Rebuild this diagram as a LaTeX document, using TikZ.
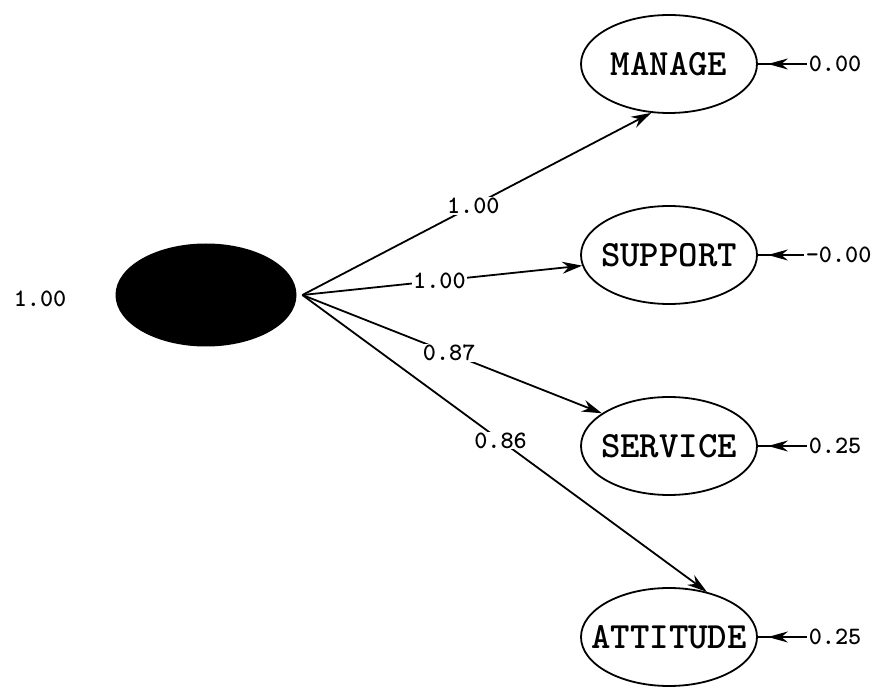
\documentclass[tikz,border=0pt]{standalone}
\usepackage{fontspec}
\usetikzlibrary{arrows.meta,positioning,shapes.geometric}

\begin{document}
\begin{tikzpicture}[x=1pt, y=1pt, >={Stealth[length=20pt,width=12pt]}, line width=1.8pt,
    node distance=191pt,
    observed/.style={ellipse, draw, on grid, minimum width=176pt, minimum height=98pt,
        inner xsep=-40pt, inner ysep=0pt,
        font=\fontsize{37}{37}\selectfont\ttfamily\bfseries},
    latent/.style={ellipse, fill=black, minimum width=181pt, minimum height=103pt, inner sep=0pt},
    value/.style={inner sep=1pt, font=\fontsize{25}{25}\selectfont\ttfamily\bfseries},
    loading/.style={value, fill=white, pos=0.49},
    errarrow/.style={-{Stealth[length=20pt,width=11pt]}, shorten >=10pt}]
    \useasboundingbox (0,0) rectangle (875,686);

    % Nodes {eta, manage, support, service, attitude}
    \node [latent]   (eta)      at (206,391)  {};
    \node [value]    (etavar)   at (40,387)   {1.00};
    \node [observed] (manage)   at (669,622)  {MANAGE};
    \node [observed] (support)  [below=of manage]   {SUPPORT};
    \node [observed] (service)  [below=of support]  {SERVICE};
    \node [observed] (attitude) [below=of service]  {ATTITUDE};

    % Error terms
    \node [value] (e1) [right=49pt of manage]   {0.00};
    \node [value] (e2) [right=46pt of support]  {-0.00};
    \node [value] (e3) [right=49pt of service]  {0.25};
    \node [value] (e4) [right=49pt of attitude] {0.25};

    % Paths
    \coordinate (src) at ([xshift=5pt]eta.east);
    \path [->] (src) edge node[loading] {1.00} (manage.250);
    \path [->] (src) edge node[loading] {1.00} (support.187);
    \path [->] (src) edge node[loading] {0.87} (service.154);
    \path [->] (src) edge node[loading] {0.86} (attitude.50);

    \path (e1) edge (manage) edge [errarrow] (manage);
    \path (e2) edge (support) edge [errarrow] (support);
    \path (e3) edge (service) edge [errarrow] (service);
    \path (e4) edge (attitude) edge [errarrow] (attitude);
\end{tikzpicture}
\end{document}
